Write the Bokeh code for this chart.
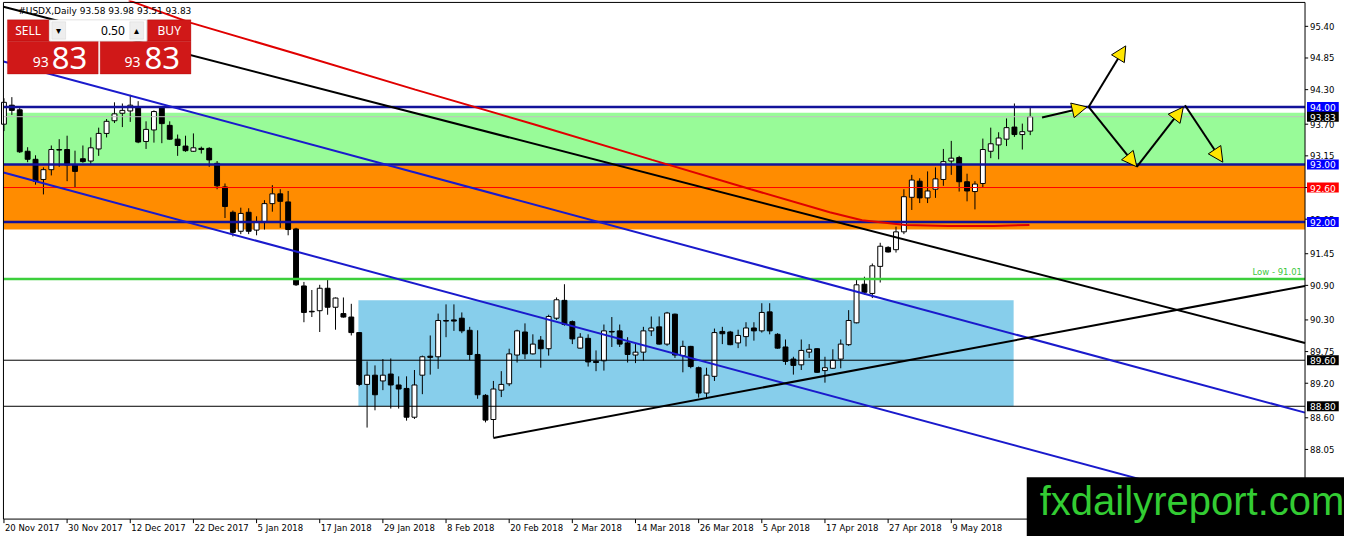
from bokeh.plotting import figure
from bokeh.models import (ColumnDataSource, Range1d, Label, BoxAnnotation, Arrow, NormalHead)
from bokeh.core.properties import value
from bokeh.embed import file_html
from bokeh.resources import INLINE

# ---------------- data ----------------
symbol = "#USDX,Daily"

dates = ["20 Nov 2017", "30 Nov 2017", "12 Dec 2017", "22 Dec 2017", "5 Jan 2018",
         "17 Jan 2018", "29 Jan 2018", "8 Feb 2018", "20 Feb 2018", "2 Mar 2018",
         "14 Mar 2018", "26 Mar 2018", "5 Apr 2018", "17 Apr 2018", "27 Apr 2018",
         "9 May 2018"]
date_ticks = [0, 8, 16, 24, 32, 40, 48, 56, 64, 72, 80, 88, 96, 104, 112, 120]

price_ticks = [95.40, 94.85, 94.30, 93.70, 93.15, 92.60, 92.05, 91.45, 90.90,
               90.30, 89.75, 89.20, 88.60, 88.05, 87.50]

opens = [93.70, 94.03, 93.95, 93.23, 93.09, 92.74, 92.91, 93.26, 93.26, 92.99,
         93.10, 93.06, 93.27, 93.54, 93.76, 93.89, 93.93, 93.99, 93.40, 93.60,
         93.99, 93.68, 93.44, 93.32, 93.23, 93.28, 93.28, 93.02, 92.61, 92.17,
         91.84, 92.17, 91.86, 92.01, 92.32, 92.49, 92.35, 91.88, 90.89, 90.45,
         90.46, 90.85, 90.52, 90.41, 90.35, 90.08, 89.18, 89.34, 89.24, 89.36,
         89.17, 89.11, 88.61, 89.34, 89.67, 89.66, 90.29, 90.30, 90.33, 90.12,
         89.70, 88.99, 88.57, 89.08, 89.19, 89.69, 90.09, 89.71, 89.95, 89.80,
         90.33, 90.64, 90.27, 89.81, 89.98, 89.58, 89.59, 90.10, 90.11, 89.90,
         89.69, 89.74, 90.11, 90.18, 89.88, 90.40, 89.68, 89.84, 89.47, 89.03,
         89.32, 90.10, 90.09, 89.90, 90.01, 90.16, 90.11, 90.44, 90.05, 89.83,
         89.62, 89.52, 89.74, 89.80, 89.42, 89.46, 89.62, 89.87, 90.25, 90.92,
         90.76, 91.23, 91.56, 91.52, 91.83, 92.43, 92.71, 92.42, 92.57, 92.74,
         93.06, 93.12, 92.70, 92.53, 92.67, 93.23, 93.34, 93.44, 93.65, 93.52,
         93.58]
highs = [94.15, 94.17, 93.98, 93.30, 93.16, 92.95, 93.33, 93.44, 93.50, 93.24,
         93.33, 93.47, 93.64, 93.79, 94.08, 94.06, 94.21, 94.10, 93.75, 93.94,
         94.00, 93.75, 93.52, 93.50, 93.54, 93.31, 93.30, 93.06, 92.67, 92.20,
         92.25, 92.24, 92.10, 92.38, 92.64, 92.57, 92.54, 91.90, 90.96, 90.82,
         90.91, 91.00, 90.69, 90.69, 90.58, 90.09, 89.58, 89.51, 89.62, 89.63,
         89.32, 89.32, 89.43, 89.68, 90.03, 90.41, 90.57, 90.57, 90.43, 90.18,
         90.12, 89.01, 89.24, 89.41, 89.80, 90.13, 90.24, 90.05, 90.02, 90.39,
         90.69, 90.92, 90.29, 90.07, 90.05, 89.77, 90.22, 90.35, 90.22, 90.00,
         89.88, 90.18, 90.36, 90.36, 90.44, 90.41, 89.94, 89.85, 89.49, 89.47,
         90.15, 90.18, 90.11, 90.13, 90.26, 90.26, 90.59, 90.59, 90.07, 89.96,
         89.66, 89.96, 89.88, 89.81, 89.66, 89.79, 89.96, 90.47, 91.02, 91.05,
         91.28, 91.64, 91.58, 91.92, 92.57, 92.82, 92.76, 92.88, 92.95, 93.27,
         93.41, 93.15, 92.84, 92.71, 93.45, 93.64, 93.56, 93.80, 94.06, 93.71,
         93.98]
lows = [93.58, 93.86, 93.20, 93.04, 92.65, 92.48, 92.81, 92.96, 92.71, 92.60,
        93.03, 92.99, 93.15, 93.47, 93.72, 93.65, 93.74, 93.37, 93.27, 93.38,
        93.37, 93.43, 93.15, 93.22, 93.22, 93.19, 92.96, 92.57, 92.07, 91.75,
        91.79, 91.79, 91.77, 91.87, 92.18, 91.90, 91.77, 90.89, 90.26, 90.35,
        90.09, 90.39, 90.13, 90.34, 90.03, 89.15, 88.43, 88.73, 89.08, 88.76,
        88.76, 88.55, 88.58, 89.01, 89.35, 89.45, 90.00, 90.11, 90.07, 89.60,
        88.93, 88.52, 88.26, 88.96, 89.15, 89.56, 89.62, 89.70, 89.47, 89.68,
        90.30, 90.20, 89.88, 89.80, 89.49, 89.41, 89.42, 89.83, 89.83, 89.56,
        89.55, 89.59, 90.02, 89.87, 89.85, 89.64, 89.39, 89.46, 88.95, 88.96,
        89.24, 89.88, 89.86, 89.81, 89.84, 89.94, 90.08, 90.05, 89.80, 89.52,
        89.35, 89.43, 89.64, 89.38, 89.21, 89.45, 89.46, 89.85, 90.24, 90.74,
        90.68, 90.95, 91.47, 91.47, 91.79, 92.21, 92.33, 92.33, 92.42, 92.63,
        92.82, 92.53, 92.36, 92.22, 92.60, 93.11, 93.09, 93.32, 93.48, 93.26,
        93.51]
closes = [94.08, 93.94, 93.22, 93.09, 92.71, 92.91, 93.26, 93.25, 92.99, 92.88,
          93.05, 93.29, 93.54, 93.75, 93.88, 93.94, 94.03, 93.39, 93.61, 93.92,
          93.71, 93.44, 93.33, 93.24, 93.29, 93.26, 93.08, 92.63, 92.27, 91.82,
          92.15, 91.84, 92.00, 92.32, 92.49, 92.36, 91.87, 90.91, 90.43, 90.44,
          90.85, 90.52, 90.68, 90.35, 90.08, 89.18, 89.34, 89.00, 89.34, 89.17,
          89.10, 88.61, 89.17, 89.66, 89.65, 90.29, 90.28, 90.28, 90.11, 89.70,
          89.00, 88.56, 89.10, 89.18, 89.71, 90.11, 89.71, 89.88, 89.80, 90.36,
          90.65, 90.22, 89.97, 90.00, 89.57, 89.56, 90.11, 90.09, 89.88, 89.70,
          89.74, 90.11, 90.16, 89.88, 90.42, 89.69, 89.84, 89.49, 89.03, 89.34,
          90.08, 90.06, 89.87, 90.03, 90.16, 90.11, 90.43, 90.11, 89.81, 89.58,
          89.51, 89.77, 89.79, 89.39, 89.47, 89.60, 89.88, 90.29, 90.91, 90.78,
          91.24, 91.58, 91.48, 91.83, 92.44, 92.73, 92.42, 92.54, 92.75, 93.05,
          93.11, 92.70, 92.54, 92.66, 93.26, 93.36, 93.46, 93.64, 93.52, 93.57,
          93.83]

# red moving average, sampled along the curve (bar index, price)
ma_idx = [15.8, 23.7, 37.1, 52.1, 67.1, 82.1, 94.6, 104.6, 108.7, 114.2, 119.6, 125.4, 129.9]
ma_val = [95.85, 95.46, 94.92, 94.30, 93.70, 93.08, 92.57, 92.17, 92.03, 91.95, 91.93, 91.93, 91.95]

# trend lines (bar index, price)
down_x, down_y = [-0.06, 164.81], [95.74, 89.90]
chan_up_x, chan_up_y = [-0.06, 164.81], [94.79, 88.69]
chan_lo_x, chan_lo_y = [-0.06, 164.81], [92.86, 86.76]
up_x, up_y = [62, 164.81], [88.25, 90.89]

# zones
green_zone = (93.00, 93.90)
orange_zone = (91.87, 93.00)
range_box = (44.9, 127.9, 88.80, 90.64)   # left, right, bottom, top

# horizontal levels: price, colour, width
levels = [(94.00, "#12129a", 2.5), (93.00, "#12129a", 2.5), (92.00, "#12129a", 2.5),
          (92.60, "#ff0000", 1), (91.01, "#3ccf3c", 2.5), (89.60, "black", 1),
          (88.80, "black", 1)]
low_level = 91.01

# forecast arrows
arr_x0 = [131.5, 137.4, 137.4, 143.5, 149.6]
arr_y0 = [93.815, 94.00, 94.00, 92.96, 94.03]
arr_x1 = [137.2, 142.1, 143.5, 149.4, 154.4]
arr_y1 = [94.00, 95.06, 92.96, 94.00, 93.04]

# right-axis price tags: price, background
tags = [(94.00, "#0000ff"), (closes[-1], "#000000"), (93.00, "#0000ff"),
        (92.60, "#ff0000"), (92.00, "#0000ff"), (89.60, "#000000"), (88.80, "#000000")]


# ---------------- figure ----------------
# the MT4 window: 8 px per bar, 59.5 px per 1.00 of price, 94.00 at y=110
def rx(px):
    return (px - 3.5) / 8


def ry(py):
    return 94 - (py - 110) / 59.5


FX0, FX1 = rx(3), rx(1322)      # chart area left / right (price scale) edges
FY0, FY1 = ry(536), ry(2)       # chart area bottom / top

FONT = "DejaVu Sans"
FS = "8.5px"

p = figure(frame_width=1344, frame_height=536, min_border=0,
           x_range=Range1d(rx(0), rx(1362)), y_range=Range1d(ry(554), ry(0)),
           x_axis_location=None, y_axis_location=None,
           toolbar_location=None, output_backend="svg")
p.grid.visible = False
p.outline_line_color = None

# zones
p.add_layout(BoxAnnotation(left=FX0, right=FX1, bottom=green_zone[0], top=green_zone[1],
                           fill_color="#98fb98", fill_alpha=1, line_alpha=0, level="underlay"))
p.add_layout(BoxAnnotation(left=FX0, right=FX1, bottom=orange_zone[0], top=orange_zone[1],
                           fill_color="#ff8c00", fill_alpha=1, line_alpha=0, level="underlay"))
p.add_layout(BoxAnnotation(left=range_box[0], right=range_box[1], bottom=range_box[2],
                           top=range_box[3], fill_color="#87ceeb", fill_alpha=1,
                           line_alpha=0, level="underlay"))

# candles
n = len(opens)
src = ColumnDataSource(dict(
    idx=list(range(n)), o=opens, h=highs, l=lows, c=closes,
    top=[max(a, b) for a, b in zip(opens, closes)],
    bottom=[min(a, b) for a, b in zip(opens, closes)],
    fill=["white" if c >= o else "black" for o, c in zip(opens, closes)],
))
p.segment(x0="idx", y0="l", x1="idx", y1="h", line_color="black", line_width=1, source=src)
p.vbar(x="idx", width=0.62, top="top", bottom="bottom", fill_color="fill",
       line_color="black", line_width=1, source=src)

# horizontal levels (bid line first)
p.segment(x0=[FX0], x1=[FX1], y0=[closes[-1]], y1=[closes[-1]], line_color="#c0c0c0", line_width=1)
lv_src = ColumnDataSource(dict(y=[l[0] for l in levels], color=[l[1] for l in levels],
                               w=[l[2] for l in levels],
                               x0=[FX0] * len(levels), x1=[FX1] * len(levels)))
p.segment(x0="x0", x1="x1", y0="y", y1="y", line_color="color", line_width="w", source=lv_src)

# trend lines and MA
p.line(chan_up_x, chan_up_y, line_color="#1a1acc", line_width=2)
p.line(chan_lo_x, chan_lo_y, line_color="#1a1acc", line_width=2)
p.line(down_x, down_y, line_color="black", line_width=2)
p.line(up_x, up_y, line_color="black", line_width=2)
p.line(ma_idx, ma_val, line_color="#e00000", line_width=2)

# forecast arrows
arr_src = ColumnDataSource(dict(x0=arr_x0, y0=arr_y0, x1=arr_x1, y1=arr_y1))
p.add_layout(Arrow(end=NormalHead(size=15, fill_color="#ffe600", line_color="black", line_width=1),
                   x_start="x0", y_start="y0", x_end="x1", y_end="y1",
                   line_color="black", line_width=2, source=arr_src))

p.add_layout(Label(x=FX1, x_offset=-3, y=low_level, y_offset=2, text="Low - %.2f" % low_level,
                   text_align="right", text_baseline="bottom", text_color="#3cc83c",
                   text_font=FONT, text_font_size=FS))

# chart frame and price / time scales
p.segment(x0=[FX0, FX0, FX1, FX0], x1=[FX0, FX1, FX1, FX1],
          y0=[FY0, FY1, FY0, FY0], y1=[FY1, FY1, FY1, FY0], line_color="black", line_width=1)
p.segment(x0=[FX1] * len(price_ticks), x1=[FX1 + 0.4] * len(price_ticks),
          y0=price_ticks, y1=price_ticks, line_color="black", line_width=1)
p.text(x=[FX1] * len(price_ticks), y=price_ticks, text=["%.2f" % t for t in price_ticks],
       x_offset=5, text_align="left", text_baseline="middle", text_font=value(FONT),
       text_font_size=value(FS), text_color="black")
p.segment(x0=date_ticks, x1=date_ticks, y0=[FY0] * len(date_ticks),
          y1=[FY0 - 0.07] * len(date_ticks), line_color="black", line_width=1)
p.text(x=date_ticks, y=[ry(545)] * len(date_ticks), text=dates, x_offset=1,
       text_align="left", text_baseline="middle", text_font=value(FONT),
       text_font_size=value(FS), text_color="black")

# right-axis price tags
for pr, bg in tags:
    p.add_layout(Label(x=rx(1324), y=pr, text="%.2f" % pr, text_align="left",
                       text_baseline="middle", text_color="white", text_font=FONT,
                       text_font_size="9px", background_fill_color=bg,
                       padding=dict(left=3, right=3, top=2, bottom=1)))

# header
p.add_layout(Label(x=rx(18), y=ry(11),
                   text="%s  %.2f %.2f %.2f %.2f" % (symbol, opens[-1], highs[-1], lows[-1], closes[-1]),
                   text_align="left", text_baseline="middle", text_font=FONT,
                   text_font_size="9px", text_color="black"))

# one-click trading panel
RED = "#d01818"
for l_, t_, r_, b_ in [(7, 20, 49, 42), (149, 20, 193, 42), (7, 42, 99, 76), (101, 42, 193, 76)]:
    p.add_layout(BoxAnnotation(left=rx(l_), right=rx(r_), top=ry(t_), bottom=ry(b_),
                               fill_color=RED, fill_alpha=1, line_color="#a80000", line_width=1))
p.add_layout(BoxAnnotation(left=rx(50), right=rx(148), top=ry(20), bottom=ry(42),
                           fill_color="white", fill_alpha=1, line_color="#a0a0a0", line_width=1))
for l_, r_ in [(52, 66), (131, 145)]:
    p.add_layout(BoxAnnotation(left=rx(l_), right=rx(r_), top=ry(22), bottom=ry(40),
                               fill_color="#eeeeee", fill_alpha=1, line_color="#c4c4c4", line_width=1))
pnl = "Noto Sans"
big = "%.2f" % closes[-1]
for x_, txt, sz, col, al in [(28, "SELL", "12px", "white", "center"),
                             (171, "BUY", "12px", "white", "center"),
                             (59, "\u25be", "10px", "black", "center"),
                             (138, "\u25b4", "10px", "black", "center"),
                             (126, "0.50", "12px", "black", "right")]:
    p.add_layout(Label(x=rx(x_), y=ry(31), text=txt, text_align=al, text_baseline="middle",
                       text_font=pnl, text_font_size=sz, text_color=col))
for x_small, x_big in [(49, 52), (142, 146)]:
    p.add_layout(Label(x=rx(x_small), y=ry(64), text=big[:2], text_align="right",
                       text_baseline="middle", text_font=pnl, text_font_size="14px",
                       text_color="white"))
    p.add_layout(Label(x=rx(x_big), y=ry(59), text=big[3:], text_align="left",
                       text_baseline="middle", text_font=pnl, text_font_size="31px",
                       text_color="white"))

# logo
p.add_layout(Label(x=rx(1040), y=ry(532), text="fxdailyreport.com", text_align="left",
                   text_baseline="middle", text_font="Liberation Sans", text_font_size="40px",
                   text_color="#33cc33", background_fill_color="black",
                   padding=dict(left=13, right=40, top=2, bottom=30)))

open("out.html", "w").write(file_html(p, INLINE))
